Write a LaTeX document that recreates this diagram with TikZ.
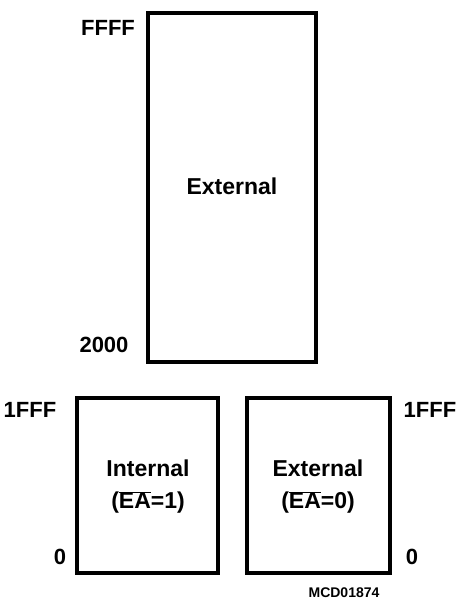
\documentclass[tikz,border=0pt]{standalone}
\usepackage{fontspec}
\setmainfont{Liberation Sans}
\begin{document}
\begin{tikzpicture}[x=1pt,y=-1pt,
  membox/.style={draw,line width=3.4pt,inner sep=0pt},
  lbl/.style={font=\fontsize{22}{24}\selectfont\bfseries,inner sep=0pt},
  inlbl/.style={font=\fontsize{23}{32}\selectfont\bfseries,align=center,inner sep=0pt},
  tag/.style={font=\fontsize{14}{16}\selectfont\bfseries,inner sep=0pt}]
\useasboundingbox (0,0) rectangle (456,603);
\node[membox,minimum width=168pt,minimum height=349pt] (ext) at (232,187.5) {};
\node[membox,minimum width=141pt,minimum height=175pt] (int) at (147.5,485.5) {};
\node[membox,minimum width=143pt,minimum height=175pt] (ext2) at (318.5,485.5) {};
\node[inlbl] (tExt) at (232,186) {External};
\node[inlbl] (tInt) at (148,487) {Internal\\(\(\overline{\hbox{EA}}\)=1)};
\node[inlbl] (tExt2) at (318,487) {External\\(\(\overline{\hbox{EA}}\)=0)};
\node[lbl] (ffff) at (108,28) {FFFF};
\node[lbl] (l2000) at (104,345) {2000};
\node[lbl] (l1fffa) at (30,410) {1FFF};
\node[lbl] (l1fffb) at (430,410) {1FFF};
\node[lbl] (l0a) at (60,557) {0};
\node[lbl] (l0b) at (412,557) {0};
\node[tag] (mcd) at (344,593) {MCD01874};
\end{tikzpicture}
\end{document}
